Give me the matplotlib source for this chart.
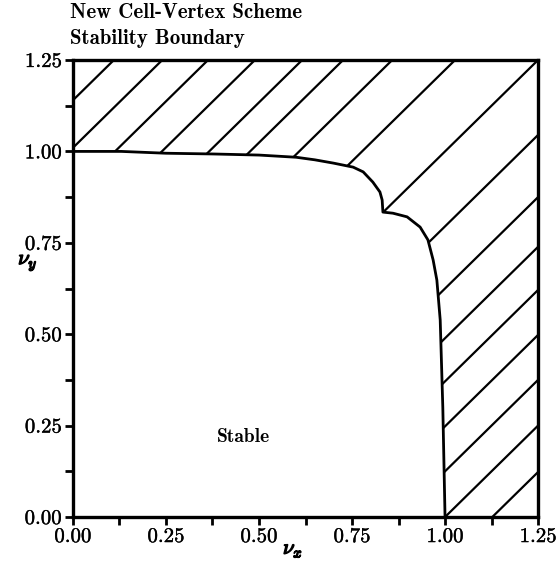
"""New cell-vertex scheme stability boundary (hatched unstable region)."""
import matplotlib
matplotlib.use("Agg")
import matplotlib.pyplot as plt
import matplotlib.patheffects as pe
from matplotlib.patches import Polygon
from matplotlib.ticker import MultipleLocator, FormatStrFormatter

plt.rcParams["mathtext.fontset"] = "cm"

# stability boundary nu_y(nu_x)
bound_x = [0.0, 0.13, 0.25, 0.376, 0.5, 0.6, 0.65, 0.7, 0.753, 0.78, 0.806,
           0.825, 0.831, 0.833, 0.86, 0.898, 0.933, 0.954, 0.968, 0.978, 0.987, 0.994, 1.0]
bound_y = [1.0, 1.0, 0.995, 0.993, 0.99, 0.984, 0.977, 0.968, 0.957, 0.944, 0.916,
           0.889, 0.867, 0.834, 0.831, 0.821, 0.793, 0.758, 0.703, 0.648, 0.539, 0.3, 0.0]
# hatch lines nu_y = nu_x + c
hatch_c = [1.14, 1.01, 0.887, 0.761, 0.634, 0.524, 0.392, 0.223, 0.0,
           -0.205, -0.375, -0.511, -0.629, -0.752, -0.875, -1.0, -1.127]
lim = 1.25

fig = plt.figure(figsize=(5.57, 5.63), dpi=100)
ax = fig.add_axes([0.131, 0.0817, 0.835, 0.8117])

# unstable region used as clip path for the hatching
region = list(zip(bound_x, bound_y)) + [(lim, 0.0), (lim, lim), (0.0, lim)]
clip = Polygon(region, closed=True, facecolor="none", edgecolor="none",
               transform=ax.transData)
ax.add_patch(clip)
for c in hatch_c:
    ln, = ax.plot([-0.5, 2.0], [-0.5 + c, 2.0 + c], color="black", lw=1.6,
                  solid_capstyle="round")
    ln.set_clip_path(clip)

ax.plot(bound_x, bound_y, color="black", lw=2.0)
ax.text(0.457, 0.219, "Stable", family="cmb10", fontsize=14, ha="center", va="center")

ax.set_xlim(0, lim); ax.set_ylim(0, lim)
for a in (ax.xaxis, ax.yaxis):
    a.set_major_locator(MultipleLocator(0.25))
    a.set_minor_locator(MultipleLocator(0.125))
    a.set_major_formatter(FormatStrFormatter("%.2f"))
ax.tick_params(which="both", direction="out", length=6, width=2, labelsize=15,
               top=False, right=False, pad=2)
for lab in ax.get_xticklabels() + ax.get_yticklabels():
    lab.set_family("cmr10")
    lab.set_path_effects([pe.withStroke(linewidth=0.25, foreground="black")])
for s in ax.spines.values():
    s.set_linewidth(2.4)

fig.text(0.526, 0.024, r"$\nu_x$", fontsize=15, ha="center", va="center",
         path_effects=[pe.withStroke(linewidth=1.0, foreground="black")])
fig.text(0.05, 0.533, r"$\nu_y$", fontsize=15, ha="center", va="center",
         path_effects=[pe.withStroke(linewidth=1.0, foreground="black")])
fig.text(0.126, 0.977, "New Cell-Vertex Scheme", family="cmb10", fontsize=15, va="center")
fig.text(0.126, 0.9325, "Stability Boundary", family="cmb10", fontsize=15, va="center")

fig.savefig("out.png", dpi=100)
